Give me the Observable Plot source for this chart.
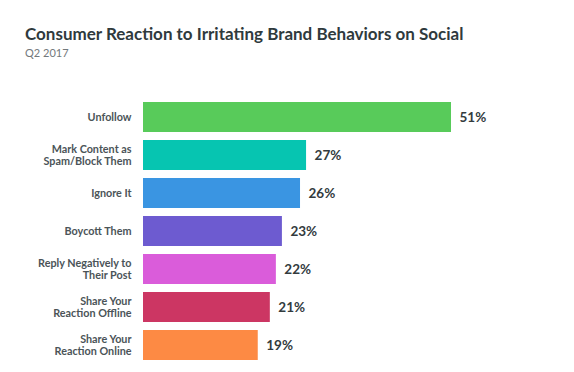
<!DOCTYPE html>
<html>
<head>
<meta charset="utf-8">
<script src="https://cdn.jsdelivr.net/npm/d3@7"></script>
<script src="https://cdn.jsdelivr.net/npm/@observablehq/plot@0.6"></script>
<style>
  html, body { margin: 0; padding: 0; background: #fff; }
  #wrap { width: 574px; height: 372px; overflow: hidden; }
  #head { height: 80px; position: relative; }
  #title { position: absolute; left: 25px; top: 23px; font-family: Lato, sans-serif; font-weight: 700; font-size: 17px; color: #2f3a3d; white-space: nowrap; }
  #sub { position: absolute; left: 25px; top: 46px; font-family: Lato, sans-serif; font-weight: 400; font-size: 11px; color: #73797c; }
</style>
</head>
<body>
<div id="wrap">
  <div id="head">
    <div id="title">Consumer Reaction to Irritating Brand Behaviors on Social</div>
    <div id="sub">Q2 2017</div>
  </div>
  <div id="chart"></div>
</div>
<script>
const categories = [
  "Unfollow",
  "Mark Content as\nSpam/Block Them",
  "Ignore It",
  "Boycott Them",
  "Reply Negatively to\nTheir Post",
  "Share Your\nReaction Offline",
  "Share Your\nReaction Online"
];
const values = [51, 27, 26, 23, 22, 21, 19];
const colors = ["#58cb5a", "#06c5b1", "#3a95e2", "#6d5bd0", "#da5cda", "#cc3663", "#fd8a44"];

const data = categories.map((c, i) => ({category: c, value: values[i], color: colors[i]}));

const plot = Plot.plot({
  width: 574,
  height: 292,
  marginLeft: 143,
  marginRight: 123,
  marginTop: 12,
  marginBottom: 2,
  style: {fontFamily: "Lato, sans-serif", background: "#fff"},
  x: {domain: [0, 51], axis: null},
  y: {domain: categories, padding: 0.21, label: null, tickSize: 0, tickPadding: 12},
  marks: [
    Plot.barX(data, {x: "value", y: "category", fill: "color"}),
    Plot.text(data, {x: "value", y: "category", text: d => d.value + "%", textAnchor: "start", dx: 8, fontSize: 13.5, fontWeight: 700, fill: "#333b3e"}),
    Plot.axisY({tickSize: 0, tickPadding: 12, fontSize: 10.8, fontWeight: 700, color: "#4b5458", lineHeight: 1.1, label: null})
  ]
});
document.getElementById("chart").appendChild(plot);
</script>
</body>
</html>
